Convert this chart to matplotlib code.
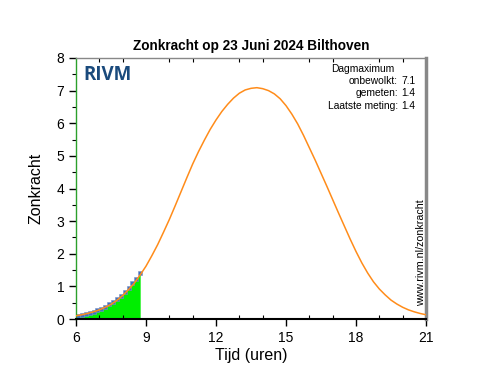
import numpy as np
import matplotlib
matplotlib.use('Agg')
import matplotlib.pyplot as plt
from matplotlib.ticker import MultipleLocator

plt.rcParams['font.family'] = ['Liberation Sans', 'DejaVu Sans']

# Clear-sky (onbewolkt) UV index, quarter-hourly from 06:00 to 21:00
clear_hours = [6 + i * 0.25 for i in range(61)]
clear_uv = [0.10, 0.13, 0.17, 0.22, 0.28, 0.36, 0.45, 0.57, 0.72, 0.90,
            1.10, 1.35, 1.62, 1.94, 2.28, 2.66, 3.05, 3.47, 3.90, 4.33,
            4.75, 5.13, 5.48, 5.81, 6.10, 6.36, 6.58, 6.77, 6.92, 7.02,
            7.07, 7.09, 7.06, 7.00, 6.90, 6.75, 6.54, 6.28, 5.98, 5.63,
            5.25, 4.87, 4.47, 4.07, 3.66, 3.25, 2.85, 2.45, 2.07, 1.72,
            1.41, 1.14, 0.92, 0.74, 0.58, 0.46, 0.36, 0.28, 0.22, 0.17,
            0.13]

# Measured (gemeten) UV index, 10-minute values
meas_hours = [6 + 5/60 + i*10/60 for i in range(17)]
meas_uv = [0.08, 0.11, 0.14, 0.18, 0.22, 0.27, 0.32, 0.38, 0.45, 0.53,
           0.62, 0.72, 0.83, 0.95, 1.09, 1.24, 1.40]

day_max_clear = 7.1
day_max_meas = 1.4
last_meas = 1.4

fig = plt.figure(figsize=(5.02, 3.77), dpi=100)
ax = fig.add_axes([0.1514, 0.1538, 0.6972, 0.6924])

# green area under measurements
ax.fill_between([6.0] + meas_hours, [meas_uv[0]] + meas_uv, 0, color='#00ee00', lw=0, zorder=1)
ax.plot(clear_hours, clear_uv, color='#ff8c1a', lw=1.1, zorder=3)
ax.plot(meas_hours, meas_uv, ls='none', marker='s', ms=3.4, mfc='#3f70c4',
        mec='#7f93c0', mew=0.4, zorder=2)

ax.set_xlim(6, 21)
ax.set_ylim(0, 8)
ax.set_xticks([6, 9, 12, 15, 18, 21])
ax.xaxis.set_minor_locator(MultipleLocator(1))
ax.yaxis.set_major_locator(MultipleLocator(1))
ax.yaxis.set_minor_locator(MultipleLocator(0.5))
ax.tick_params(which='major', direction='out', length=5, width=1, labelsize=10,
               top=False, right=False)
ax.tick_params(which='minor', direction='out', length=3, width=0.8)
ax.tick_params(axis='x', which='minor', top=True, direction='in')

for side in ['top', 'right']:
    ax.spines[side].set_color('#888888')
ax.spines['top'].set_linewidth(1.0)
ax.spines['right'].set_linewidth(2.5)
ax.spines['bottom'].set_linewidth(1.5)
ax.spines['left'].set_color('#2ca02c')
ax.spines['left'].set_linewidth(1.0)

ax.set_xlabel('Tijd (uren)', fontsize=11.5, labelpad=2)
ax.set_ylabel('Zonkracht', fontsize=11.5, labelpad=9)
ax.set_title('Zonkracht op 23 Juni 2024 Bilthoven', fontsize=9.8, fontweight='bold', pad=6)

# RIVM logo text
ax.text(0.02, 0.975, 'RIVM', transform=ax.transAxes, fontsize=13.5, fontweight='bold',
        color='#1a4a7c', va='top', ha='left', family=['Open Sans', 'DejaVu Sans'])

# Dagmaximum box
ax.text(0.911, 0.978, 'Dagmaximum', transform=ax.transAxes, fontsize=7.4, ha='right', va='top')
labels = ['onbewolkt:', 'gemeten:', 'Laatste meting:']
vals = [day_max_clear, day_max_meas, last_meas]
for i, (lab, v) in enumerate(zip(labels, vals)):
    y = 0.931 - i * 0.047
    ax.text(0.92, y, lab, transform=ax.transAxes, fontsize=7.4, ha='right', va='top')
    ax.text(0.93, y, f'{v:.1f}', transform=ax.transAxes, fontsize=7.4, ha='left', va='top')

ax.text(0.985, 0.05, 'www.rivm.nl/zonkracht', transform=ax.transAxes, fontsize=7.7,
        rotation=90, ha='center', va='bottom')

plt.savefig('out.png', dpi=100)
